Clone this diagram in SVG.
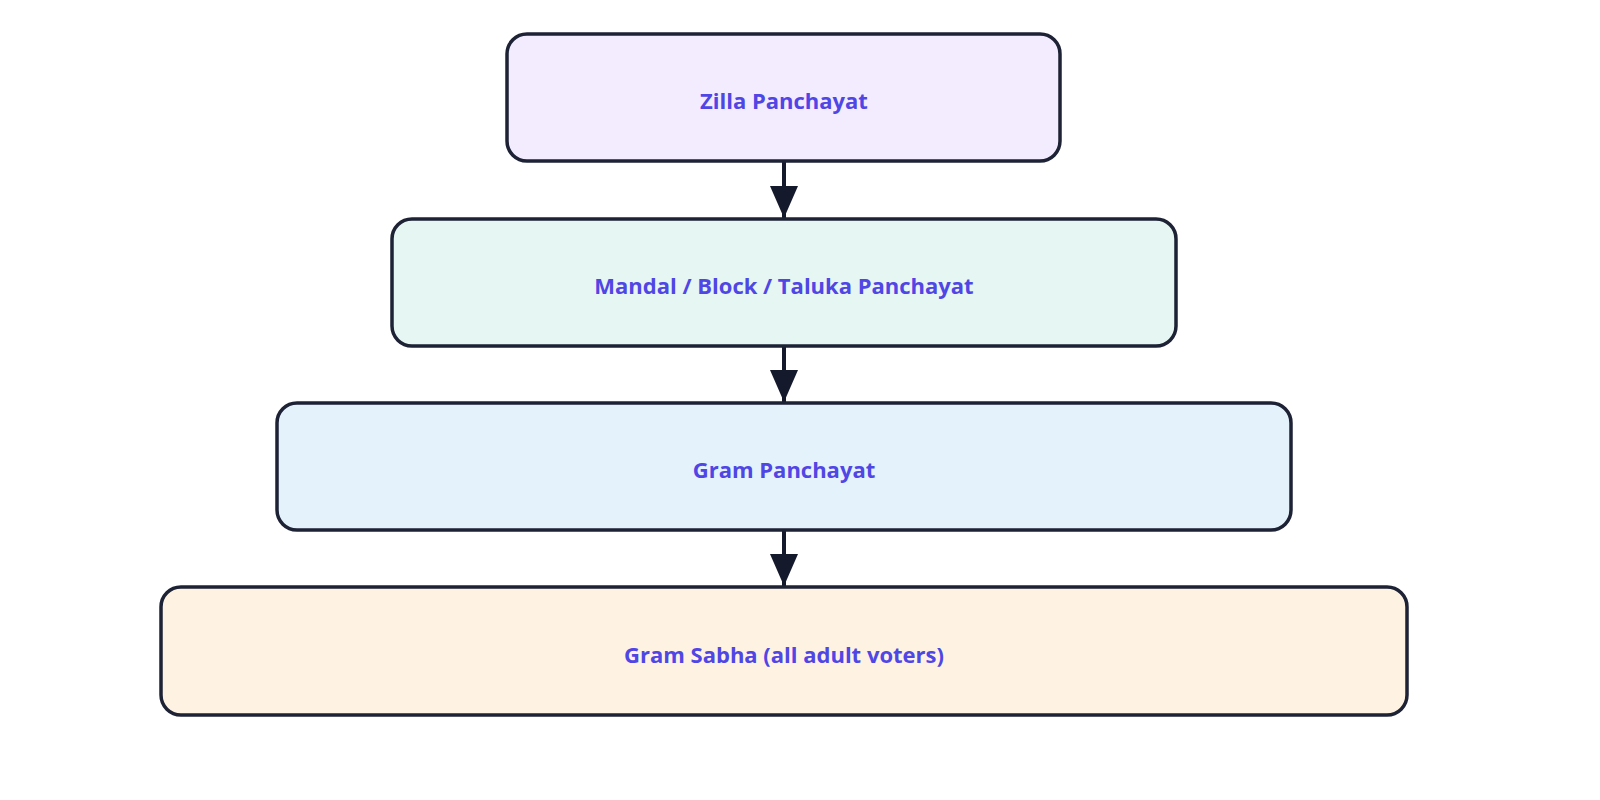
<svg xmlns="http://www.w3.org/2000/svg" width="1600" height="800" viewBox="0 0 1600 800">
<style>
.box{stroke:#1e2235;stroke-width:3.5}
.lbl{font-family:"Open Sans","Liberation Sans",sans-serif;font-weight:bold;font-size:22px;fill:#4f46e5;text-anchor:middle;dominant-baseline:central}
.edge{stroke:#141a2b;stroke-width:4;fill:none}
</style>
<defs><marker id="ah" markerWidth="32" markerHeight="28" refX="32" refY="14" orient="auto" markerUnits="userSpaceOnUse"><path d="M0,0 L32,14 L0,28 Z" fill="#141a2b"/></marker></defs>
<rect width="1600" height="800" fill="#fff"/>
<g id="connectors">
<line class="edge" x1="784" y1="161" x2="784" y2="218" marker-end="url(#ah)"/>
<line class="edge" x1="784" y1="346" x2="784" y2="402" marker-end="url(#ah)"/>
<line class="edge" x1="784" y1="530" x2="784" y2="586" marker-end="url(#ah)"/>
</g>
<g id="zilla"><rect class="box" x="507" y="34" width="553" height="127" rx="20" fill="#f3ecfe"/><text class="lbl" x="784" y="100">Zilla Panchayat</text></g>
<g id="mandal"><rect class="box" x="392" y="219" width="784" height="127" rx="20" fill="#e6f6f2"/><text class="lbl" x="784" y="285">Mandal / Block / Taluka Panchayat</text></g>
<g id="gram"><rect class="box" x="277" y="403" width="1014" height="127" rx="20" fill="#e4f2fc"/><text class="lbl" x="784" y="469">Gram Panchayat</text></g>
<g id="sabha"><rect class="box" x="161" y="587" width="1246" height="128" rx="20" fill="#fef3e2"/><text class="lbl" x="784" y="654">Gram Sabha (all adult voters)</text></g>
</svg>
